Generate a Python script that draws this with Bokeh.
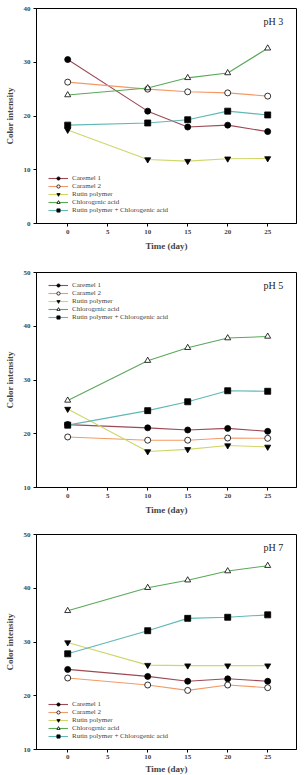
from bokeh.plotting import figure
from bokeh.layouts import column
from bokeh.models import Label, Legend, LegendItem, FixedTicker, Range1d
from bokeh.embed import file_html
from bokeh.resources import INLINE

# Storage time in days
days = [0, 10, 15, 20, 25]

series_names = ["Caremel 1", "Caramel 2", "Rutin polymer",
                "Chlorogrnic acid", "Rutin polymer + Chlorogenic acid"]

# Color intensity at pH 3
ph3_caramel1 = [30.5, 20.9, 17.95, 18.3, 17.1]
ph3_caramel2 = [26.3, 25.0, 24.5, 24.3, 23.7]
ph3_rutin = [17.4, 11.9, 11.6, 12.05, 12.1]
ph3_chlorogenic = [23.9, 25.2, 27.1, 28.0, 32.6]
ph3_rutin_cga = [18.3, 18.7, 19.3, 20.9, 20.2]

# Color intensity at pH 5
ph5_caramel1 = [21.7, 21.1, 20.7, 21.0, 20.45]
ph5_caramel2 = [19.4, 18.8, 18.8, 19.2, 19.15]
ph5_rutin = [24.6, 16.7, 17.1, 17.8, 17.55]
ph5_chlorogenic = [26.2, 33.6, 36.0, 37.8, 38.1]
ph5_rutin_cga = [21.6, 24.3, 25.95, 28.0, 27.9]

# Color intensity at pH 7
ph7_caramel1 = [24.9, 23.6, 22.7, 23.15, 22.7]
ph7_caramel2 = [23.3, 22.0, 21.0, 22.0, 21.5]
ph7_rutin = [29.9, 25.7, 25.6, 25.6, 25.6]
ph7_chlorogenic = [35.8, 40.1, 41.5, 43.2, 44.2]
ph7_rutin_cga = [27.8, 32.1, 34.4, 34.6, 35.05]

x_ticks = [0, 5, 10, 15, 20, 25]

line_colors = ["#9c4a55", "#f29a66", "#cfd66a", "#5aa85a", "#5fb8b4"]
marker_types = ["circle", "circle", "inverted_triangle", "triangle", "square"]
marker_fills = ["black", "white", "black", "white", "black"]

SERIF = "Liberation Serif"


def make_panel(title, series, y_range, y_ticks, legend_loc,
               border_top, border_bottom, tick_standoff, label_standoff):
    p = figure(frame_width=260, frame_height=215,
               min_border_left=36, min_border_right=8,
               min_border_top=border_top, min_border_bottom=border_bottom,
               x_range=Range1d(-3.9, 28.6), y_range=Range1d(*y_range),
               output_backend="svg", toolbar_location=None)
    p.grid.visible = False
    p.outline_line_color = "black"
    p.outline_line_width = 1
    p.background_fill_color = "white"
    p.border_fill_color = "white"

    for ax in (p.xaxis[0], p.yaxis[0]):
        ax.major_label_text_font = SERIF
        ax.major_label_text_font_style = "bold"
        ax.major_label_text_font_size = "7px"
        ax.axis_label_text_font = SERIF
        ax.axis_label_text_font_style = "bold"
        ax.axis_label_text_font_size = "9px"
        ax.minor_tick_line_color = None
        ax.major_tick_in = 0
        ax.major_tick_out = 3
        ax.axis_line_color = "black"
        ax.major_tick_line_color = "black"
    p.xaxis.ticker = FixedTicker(ticks=x_ticks)
    p.yaxis.ticker = FixedTicker(ticks=y_ticks)
    p.xaxis.axis_label = "Time (day)"
    p.yaxis.axis_label = "Color intensity"
    p.xaxis.major_label_standoff = tick_standoff
    p.yaxis.major_label_standoff = 3
    p.xaxis.axis_label_standoff = label_standoff
    p.yaxis.axis_label_standoff = 6

    items = []
    for name, ys, lc, mk, fc in zip(series_names, series, line_colors, marker_types, marker_fills):
        ln = p.line(days, ys, line_color=lc, line_width=1.1)
        sc = p.scatter(days, ys, marker=mk, size=6, fill_color=fc,
                       line_color="black", line_width=0.8)
        items.append(LegendItem(label=name, renderers=[ln, sc]))

    legend = Legend(items=items, location=legend_loc,
                    label_text_font=SERIF, label_text_font_size="7px",
                    label_height=8, glyph_height=8, glyph_width=20,
                    label_standoff=4, spacing=0, padding=0, margin=0,
                    border_line_color=None, background_fill_alpha=0)
    p.add_layout(legend, "center")

    p.add_layout(Label(x=227, y=202, x_units="screen", y_units="screen",
                       text=title, text_font=SERIF, text_font_size="10px",
                       text_baseline="middle", text_color="#222222"))
    return p


p1 = make_panel("pH 3",
                [ph3_caramel1, ph3_caramel2, ph3_rutin, ph3_chlorogenic, ph3_rutin_cga],
                (0, 40), [0, 10, 20, 30, 40], (12, 9), 8, 39, 3, 4)
p2 = make_panel("pH 5",
                [ph5_caramel1, ph5_caramel2, ph5_rutin, ph5_chlorogenic, ph5_rutin_cga],
                (10, 50), [10, 20, 30, 40, 50], (12, 166), 10, 35, 3, 4)
p3 = make_panel("pH 7",
                [ph7_caramel1, ph7_caramel2, ph7_rutin, ph7_chlorogenic, ph7_rutin_cga],
                (10, 50), [10, 20, 30, 40, 50], (12, 9), 12, 26, 2, 2)

layout = column(p1, p2, p3, spacing=0)
open("out.html", "w").write(file_html(layout, INLINE))
